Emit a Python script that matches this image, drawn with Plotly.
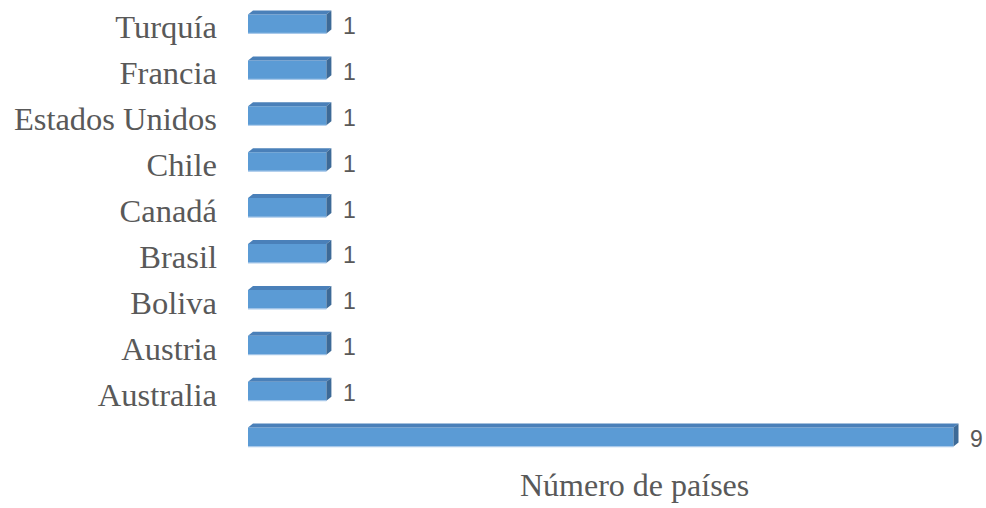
import plotly.graph_objects as go

# Countries (top to bottom) and number of countries per row
paises = ["Turquía", "Francia", "Estados Unidos", "Chile", "Canadá",
          "Brasil", "Boliva", "Austria", "Australia", ""]
valores = [1, 1, 1, 1, 1, 1, 1, 1, 1, 9]

titulo_x = "Número de países"

# Bar geometry (front face + simulated 3-D depth)
pos = list(range(len(paises)))
ancho = 0.413          # thickness of the front face, in category units
desfase = 0.065        # front face sits slightly above the category centre
prof_x = 0.064         # depth offset along x (value units)
prof_y = 0.087         # depth offset along y (category units)

COLOR_FRENTE = "#5B9BD5"
COLOR_TAPA = "#4A80B9"
COLOR_LADO = "#3D6A97"
COLOR_TEXTO = "#595959"

# plot area: 78.44 px per unit, starting 248 px from the left edge
X_MAX = 9.3
ANCHO_PLOT = X_MAX * 78.44
MARGEN_IZQ = 248
MARGEN_DER = 986 - MARGEN_IZQ - ANCHO_PLOT

fig = go.Figure(
    go.Bar(
        x=valores,
        y=pos,
        orientation="h",
        width=ancho,
        offset=-ancho / 2 - desfase,
        marker=dict(color=COLOR_FRENTE, line=dict(width=0)),
        hoverinfo="skip",
    )
)

shapes = []
annotations = []
for i, v in zip(pos, valores):
    arriba = i - ancho / 2 - desfase
    abajo = arriba + ancho
    # top face
    shapes.append(dict(
        type="path", xref="x", yref="y", layer="above",
        path=f"M 0,{arriba} L {v},{arriba} L {v + prof_x},{arriba - prof_y} "
             f"L {prof_x},{arriba - prof_y} Z",
        fillcolor=COLOR_TAPA, line=dict(width=0),
    ))
    # right side face
    shapes.append(dict(
        type="path", xref="x", yref="y", layer="above",
        path=f"M {v},{arriba} L {v + prof_x},{arriba - prof_y} "
             f"L {v + prof_x},{abajo - prof_y} L {v},{abajo} Z",
        fillcolor=COLOR_LADO, line=dict(width=0),
    ))
    # light edge under the front face
    shapes.append(dict(
        type="line", xref="x", yref="y", layer="above",
        x0=0, x1=v, y0=abajo, y1=abajo,
        line=dict(color="#A9C9EA", width=1.2),
    ))
    annotations.append(dict(
        x=v, y=i, xref="x", yref="y", text=str(v), showarrow=False,
        xanchor="left", yanchor="middle", xshift=15, yshift=1,
        font=dict(family="Liberation Sans", size=23, color=COLOR_TEXTO),
    ))

annotations.append(dict(
    x=(634.5 - MARGEN_IZQ) / ANCHO_PLOT, y=0, xref="paper", yref="paper",
    text=titulo_x, showarrow=False, xanchor="center", yanchor="middle",
    yshift=-22,
    font=dict(family="Liberation Serif", size=32, color=COLOR_TEXTO),
))

fig.update_layout(
    width=986, height=508,
    margin=dict(l=MARGEN_IZQ, r=MARGEN_DER, t=3.5, b=44.5, pad=0),
    paper_bgcolor="white", plot_bgcolor="white",
    showlegend=False,
    shapes=shapes,
    annotations=annotations,
    xaxis=dict(range=[0, X_MAX], visible=False, fixedrange=True),
    yaxis=dict(
        range=[len(paises) - 0.5, -0.5],
        tickmode="array", tickvals=pos, ticktext=paises,
        showgrid=False, zeroline=False, showline=False, ticks="",
        ticklabelstandoff=30,
        tickfont=dict(family="Liberation Serif", size=32.5, color=COLOR_TEXTO),
        fixedrange=True,
    ),
)

fig.write_html("out.html")
